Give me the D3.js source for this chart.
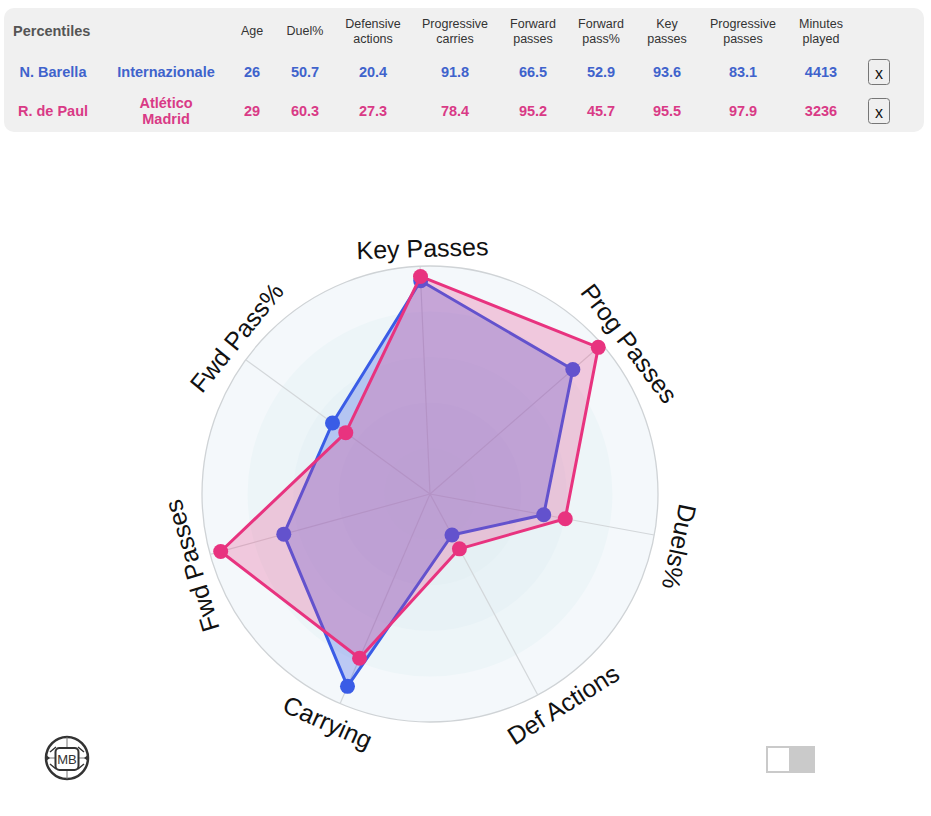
<!DOCTYPE html>
<html>
<head>
<meta charset="utf-8">
<script src="https://cdn.jsdelivr.net/npm/d3@7"></script>
<style>
  html, body { margin: 0; padding: 0; background: #fff; }
  svg { display: block; }
  text { font-family: "Liberation Sans", Arial, sans-serif; }
</style>
</head>
<body>
<svg id="chart" width="931" height="816"></svg>
<script>
// ---------- data ----------
const categories = ["Key Passes", "Prog Passes", "Duels%", "Def Actions", "Carrying", "Fwd Passes", "Fwd Pass%"];
const barellaValues = [93.6, 83.1, 50.7, 20.4, 91.8, 66.5, 52.9];
const dePaulValues  = [95.5, 97.9, 60.3, 27.3, 78.4, 95.2, 45.7];

const tableTitle = "Percentiles";
const tableHeaders = [["Age"], ["Duel%"], ["Defensive", "actions"], ["Progressive", "carries"], ["Forward", "passes"], ["Forward", "pass%"], ["Key", "passes"], ["Progressive", "passes"], ["Minutes", "played"]];
const playerNames = ["N. Barella", "R. de Paul"];
const playerTeams = [["Internazionale"], ["Atlético", "Madrid"]];
const barellaRow = ["26", "50.7", "20.4", "91.8", "66.5", "52.9", "93.6", "83.1", "4413"];
const dePaulRow  = ["29", "60.3", "27.3", "78.4", "95.2", "45.7", "95.5", "97.9", "3236"];
const rings = [100, 80, 60, 40, 20];

// ---------- styles ----------
const blue = "#3A5CE6";
const pink = "#E8337F";
const blueText = "#3F63CC";
const pinkText = "#D93A86";
// small angular nudges (degrees) and radii of the axis labels
const labelNudge = [0.75, 4.0, 1.6, -4.1, 0.9, -1.4, 2.9];
const labelRadius = [246, 250, 255, 249, 250, 249, 249];

const svg = d3.select("#chart");

// ---------- table panel ----------
svg.append("rect").attr("x", 4).attr("y", 8).attr("width", 920).attr("height", 124)
  .attr("rx", 10).attr("fill", "#f0f0f0");

svg.append("text").attr("x", 13).attr("y", 31).attr("dominant-baseline", "central")
  .attr("font-size", 14.5).attr("font-weight", "bold").attr("fill", "#555").text(tableTitle);

const colX = d3.scaleOrdinal().domain(d3.range(tableHeaders.length))
  .range([252, 305, 373, 455, 533, 601, 667, 743, 821]);

tableHeaders.forEach((lines, i) => {
  const t = svg.append("text").attr("x", colX(i)).attr("text-anchor", "middle")
    .attr("font-size", 12.5).attr("fill", "#333");
  const y0 = lines.length === 1 ? 31 : 23.5;
  lines.forEach((ln, j) => {
    t.append("tspan").attr("x", colX(i)).attr("y", y0 + j * 15.5).attr("dominant-baseline", "central").text(ln);
  });
});

const rows = [
  { name: playerNames[0], team: playerTeams[0], vals: barellaRow, color: blueText, y: 72 },
  { name: playerNames[1], team: playerTeams[1], vals: dePaulRow, color: pinkText, y: 111 }
];
rows.forEach(r => {
  svg.append("text").attr("x", 53).attr("y", r.y).attr("text-anchor", "middle").attr("dominant-baseline", "central")
    .attr("font-size", 14.5).attr("font-weight", "bold").attr("fill", r.color).text(r.name);
  const tt = svg.append("text").attr("text-anchor", "middle")
    .attr("font-size", 14.5).attr("font-weight", "bold").attr("fill", r.color);
  const ty0 = r.team.length === 1 ? r.y : r.y - 8;
  r.team.forEach((ln, j) => {
    tt.append("tspan").attr("x", 166).attr("y", ty0 + j * 16).attr("dominant-baseline", "central").text(ln);
  });
  r.vals.forEach((v, i) => {
    svg.append("text").attr("x", colX(i)).attr("y", r.y).attr("text-anchor", "middle").attr("dominant-baseline", "central")
      .attr("font-size", 14.5).attr("font-weight", "bold").attr("fill", r.color).text(v);
  });
  // remove button
  svg.append("rect").attr("x", 868.5).attr("y", r.y - 12.5).attr("width", 21).attr("height", 25).attr("rx", 3)
    .attr("fill", "#efefef").attr("stroke", "#767676").attr("stroke-width", 1);
  svg.append("text").attr("x", 879).attr("y", r.y + 1).attr("text-anchor", "middle").attr("dominant-baseline", "central")
    .attr("font-size", 16).attr("fill", "#111").text("x");
});

// ---------- radar ----------
const cx = 430, cy = 494, R = 228;
const theta0 = -2.5 * Math.PI / 180;
const rScale = d3.scaleLinear().domain([0, 100]).range([0, R]);
const aScale = d3.scaleLinear().domain([0, categories.length]).range([theta0, theta0 + 2 * Math.PI]);

const g = svg.append("g").attr("transform", `translate(${cx},${cy})`);

const ringFill = ["#f4f8fb", "#edf5f8", "#e8f2f6", "#e5f0f4", "#e3eff3"];
g.selectAll("circle.ring").data(rings).join("circle").attr("class", "ring")
  .attr("r", d => rScale(d)).attr("fill", (d, i) => ringFill[i]).attr("stroke", "none");
g.append("circle").attr("r", rScale(100)).attr("fill", "none").attr("stroke", "#cfd3d6").attr("stroke-width", 1.3);

// spokes
g.selectAll("line.spoke").data(categories).join("line").attr("class", "spoke")
  .attr("x1", 0).attr("y1", 0)
  .attr("x2", (d, i) => rScale(100) * Math.sin(aScale(i)))
  .attr("y2", (d, i) => -rScale(100) * Math.cos(aScale(i)))
  .attr("stroke", "#d3d7da").attr("stroke-width", 1.2);

const radarLine = d3.lineRadial().angle((d, i) => aScale(i)).radius(d => rScale(d)).curve(d3.curveLinearClosed);

function drawSeries(values, color, fillOpacity) {
  g.append("path").datum(values).attr("d", radarLine)
    .attr("fill", color).attr("fill-opacity", fillOpacity)
    .attr("stroke", color).attr("stroke-width", 3).attr("stroke-linejoin", "round");
  g.selectAll(null).data(values).join("circle")
    .attr("cx", (d, i) => rScale(d) * Math.sin(aScale(i)))
    .attr("cy", (d, i) => -rScale(d) * Math.cos(aScale(i)))
    .attr("r", 7.5).attr("fill", color);
}
drawSeries(barellaValues, blue, 0.3);
drawSeries(dePaulValues, pink, 0.24);

// axis labels
g.selectAll("text.axis-label").data(categories).join("text").attr("class", "axis-label")
  .attr("transform", (d, i) => {
    const a = aScale(i) + labelNudge[i] * Math.PI / 180;
    const lr = labelRadius[i];
    const x = lr * Math.sin(a), y = -lr * Math.cos(a);
    let deg = a * 180 / Math.PI;
    deg = ((deg + 180) % 360 + 360) % 360 - 180;
    if (Math.abs(deg) > 120) deg = deg > 0 ? deg - 180 : deg + 180;
    return `translate(${x},${y}) rotate(${deg})`;
  })
  .attr("text-anchor", "middle").attr("dominant-baseline", "central")
  .attr("font-size", 25).attr("fill", "#111").text(d => d);

// ---------- logo ----------
const logo = svg.append("g").attr("transform", "translate(67,758)");
logo.append("circle").attr("r", 21).attr("fill", "#fff").attr("stroke", "#333").attr("stroke-width", 2.5);
[[0, -21, 0, -11], [0, 11, 0, 21], [-21, 0, -11, 0], [11, 0, 21, 0]].forEach(l => {
  logo.append("line").attr("x1", l[0]).attr("y1", l[1]).attr("x2", l[2]).attr("y2", l[3])
    .attr("stroke", "#777").attr("stroke-width", 1);
});
logo.append("path").attr("d", "M-11,-11 L-17,-6 M11,-11 L17,-6 M-11,11 L-17,6 M11,11 L17,6")
  .attr("stroke", "#333").attr("stroke-width", 1.5).attr("fill", "none");
logo.append("path").attr("d", "M-21,-3 L-17,0 L-21,3 Z M21,-3 L17,0 L21,3 Z").attr("fill", "#333");
logo.append("rect").attr("x", -11.5).attr("y", -10).attr("width", 23).attr("height", 22).attr("rx", 4)
  .attr("fill", "#fff").attr("stroke", "#333").attr("stroke-width", 2);
logo.append("text").attr("x", 0).attr("y", 1.5).attr("text-anchor", "middle").attr("dominant-baseline", "central")
  .attr("font-size", 13).attr("fill", "#333").attr("font-family", "DejaVu Sans Mono, monospace").text("MB");

// ---------- toggle ----------
svg.append("rect").attr("x", 766).attr("y", 746).attr("width", 49).attr("height", 27).attr("fill", "#cacaca");
svg.append("rect").attr("x", 768).attr("y", 748).attr("width", 21).attr("height", 23).attr("fill", "#fff");
</script>
</body>
</html>
